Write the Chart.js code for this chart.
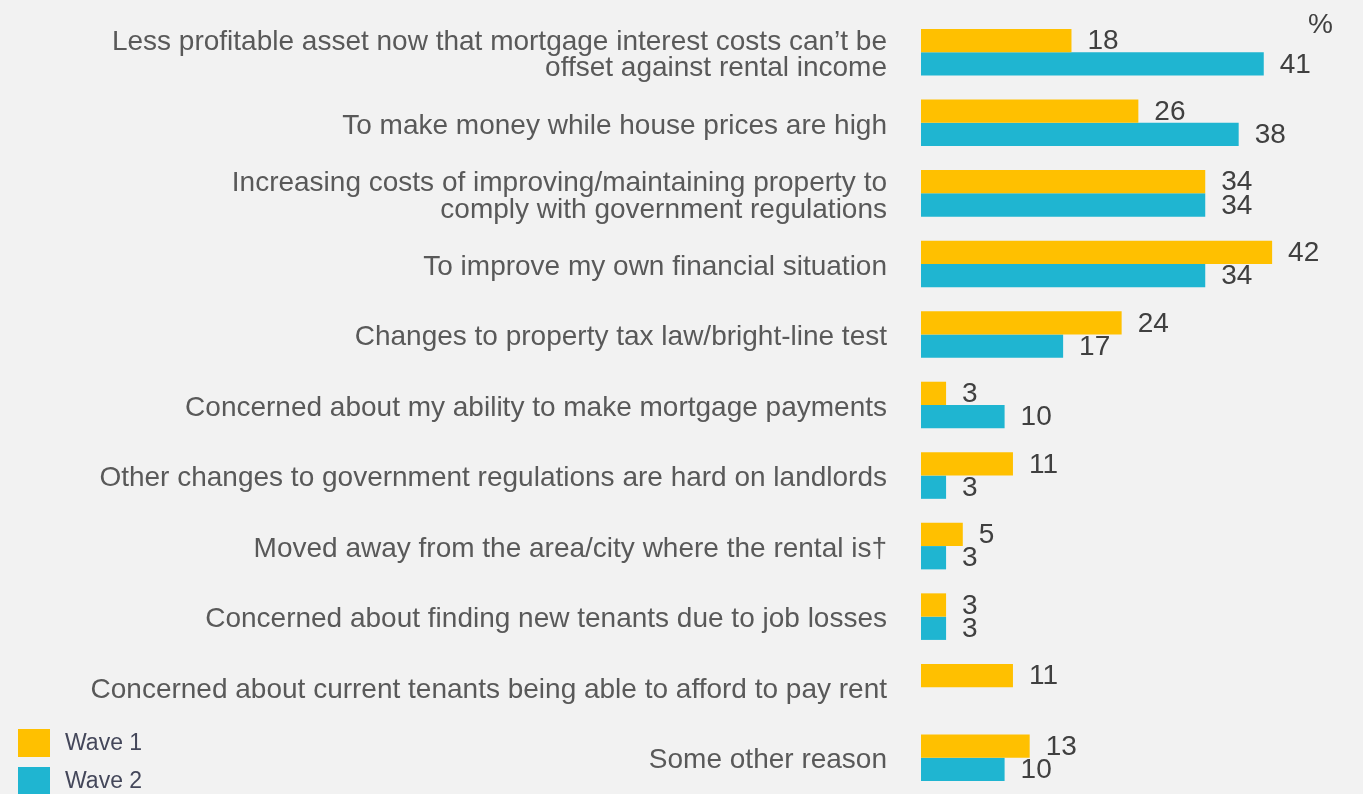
<!DOCTYPE html>
<html>
<head>
<meta charset="utf-8">
<script src="https://cdn.jsdelivr.net/npm/chart.js@4"></script>
<style>
    body { margin: 0; background: #f2f2f2; font-family: "Liberation Sans", Arial, sans-serif; }
    #wrap { position: relative; width: 1363px; height: 794px; }
    #legend { position: absolute; left: 18px; top: 724px; }
    .item { display: flex; align-items: center; height: 37px; margin-bottom: 1px; }
    .box { width: 32px; height: 28px; margin-right: 15px; }
    .item span { font-size: 23px; color: #44475a; }
    #pct { position: absolute; left: 1308px; top: 8px; font-size: 28px; color: #404040; }
</style>
</head>
<body>
<div id="wrap">
    <canvas id="barChart"></canvas>
    <div id="pct">%</div>
    <div id="legend"></div>
</div>
<script>
// reasons for selling, % of landlords
var reasons = [
    ["Less profitable asset now that mortgage interest costs can\u2019t be", "offset against rental income"],
    "To make money while house prices are high",
    ["Increasing costs of improving/maintaining property to", "comply with government regulations"],
    "To improve my own financial situation",
    "Changes to property tax law/bright-line test",
    "Concerned about my ability to make mortgage payments",
    "Other changes to government regulations are hard on landlords",
    "Moved away from the area/city where the rental is\u2020",
    "Concerned about finding new tenants due to job losses",
    "Concerned about current tenants being able to afford to pay rent",
    "Some other reason"
];
var wave1 = [18, 26, 34, 42, 24, 3, 11, 5, 3, 11, 13];
var wave2 = [41, 38, 34, 34, 17, 10, 3, 3, 3, null, 10];
var seriesNames = ["Wave 1", "Wave 2"];
var colors = ["#FFC000", "#1FB5D1"];

// value labels after each bar
var valueLabels = {
    id: 'valueLabels',
    afterDatasetsDraw: function (chart) {
        var ctx = chart.ctx;
        ctx.save();
        ctx.font = '28px "Liberation Sans", Arial, sans-serif';
        ctx.fillStyle = '#404040';
        ctx.textAlign = 'left';
        ctx.textBaseline = 'middle';
        chart.data.datasets.forEach(function (ds, i) {
            chart.getDatasetMeta(i).data.forEach(function (bar, j) {
                if (ds.data[j] == null) return;
                ctx.fillText(ds.data[j], bar.x + 16, bar.y + 1);
            });
        });
        ctx.restore();
    }
};

var ctx = document.getElementById("barChart").getContext('2d');
var myBarChart = new Chart(ctx, {
    type: 'bar',
    data: {
        labels: reasons,
        datasets: [{
            label: seriesNames[0],
            data: wave1,
            backgroundColor: colors[0]
        }, {
            label: seriesNames[1],
            data: wave2,
            backgroundColor: colors[1]
        }]
    },
    options: {
        indexAxis: 'y',
        responsive: true,
        maintainAspectRatio: false,
        animation: false,
        layout: { padding: { top: 17, bottom: 1, right: 24, left: 0 } },
        datasets: { bar: { categoryPercentage: 0.66, barPercentage: 1 } },
        plugins: {
            legend: { display: false },
            tooltip: { enabled: false }
        },
        scales: {
            x: { display: false, min: 0, max: 50 },
            y: {
                grid: { display: false, drawTicks: false },
                border: { display: false },
                afterFit: function (scale) {
                    scale.width = 921;
                    scale.paddingTop = 0;
                    scale.paddingBottom = 0;
                },
                ticks: {
                    padding: 34,
                    labelOffset: 3,
                    color: '#595959',
                    font: { family: '"Liberation Sans", Arial, sans-serif', size: 28, lineHeight: 0.96 }
                }
            }
        }
    },
    plugins: [valueLabels]
});

// legend built from the datasets
var lg = document.getElementById("legend");
myBarChart.data.datasets.forEach(function (ds) {
    var it = document.createElement("div");
    it.className = "item";
    it.innerHTML = '<div class="box" style="background:' + ds.backgroundColor + '"></div><span>' + ds.label + '</span>';
    lg.appendChild(it);
});
</script>
</body>
</html>
